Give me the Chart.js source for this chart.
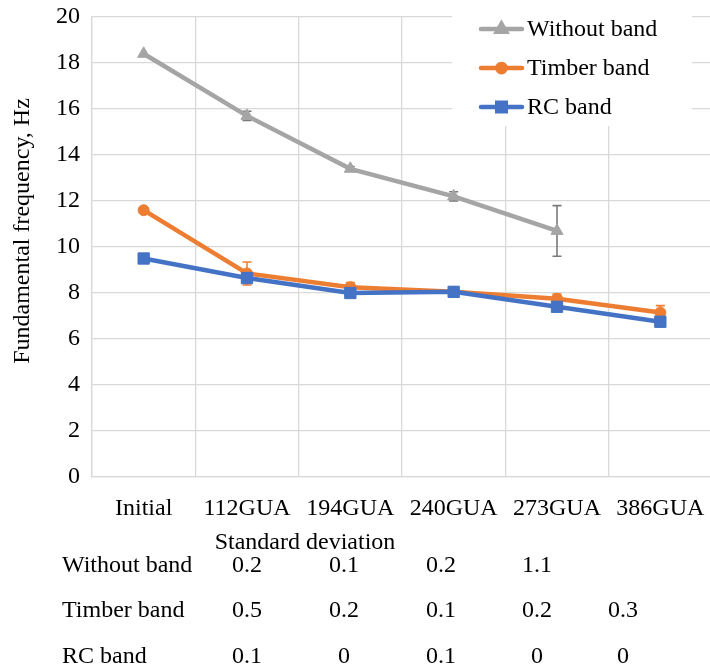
<!DOCTYPE html>
<html><head><meta charset="utf-8">
<script src="https://cdn.jsdelivr.net/npm/chart.js@4"></script>
<style>
html,body{margin:0;padding:0;background:#fff;overflow:hidden;}
#wrap{position:relative;width:710px;height:670px;overflow:hidden;}
#c{position:absolute;left:0;top:0;}
.t{position:absolute;font-family:"Liberation Serif","Times New Roman",serif;font-size:24px;color:#000;white-space:nowrap;line-height:1;transform:translateY(-50%);}
.v{transform:translate(-50%,-50%);}
</style></head><body>
<div id="wrap"><canvas id="c" width="721" height="670"></canvas><div id="tbl"></div></div>
<script>
const categories = ['Initial', '112GUA', '194GUA', '240GUA', '273GUA', '386GUA'];
const seriesNames = ['Without band', 'Timber band', 'RC band'];
const withoutBand = [18.4, 15.7, 13.4, 12.2, 10.7, null];
const timberBand = [11.6, 8.85, 8.25, 8.05, 7.75, 7.15];
const rcBand = [9.5, 8.65, 8.0, 8.05, 7.4, 6.75];
const sdWithout = [null, 0.2, 0.1, 0.2, 1.1, null];
const sdTimber = [null, 0.5, 0.2, 0.1, 0.2, 0.3];
const sdRC = [null, 0.1, 0, 0.1, 0, 0];
const yTickValues = [0, 2, 4, 6, 8, 10, 12, 14, 16, 18, 20];
const yTitle = 'Fundamental frequency, Hz';
const tableTitle = 'Standard deviation';

const FONT = '"Liberation Serif", "Times New Roman", serif';
const colors = ['#a5a5a5', '#ed7d31', '#4472c4'];
const errColors = ['#7a7a7a', '#ed7d31', '#4472c4'];
const styles = ['triangle', 'circle', 'rect'];
const radii = [7, 5.5, 8];
const values = [withoutBand, timberBand, rcBand];
const sds = [sdWithout, sdTimber, sdRC];

const errorBars = {
  id: 'errorBars',
  beforeDatasetDraw(chart, args) {
    const ds = chart.data.datasets[args.index];
    const sd = ds.sd;
    if (!sd) return;
    const ctx = chart.ctx, ys = chart.scales.y;
    ctx.save();
    ctx.strokeStyle = ds.errorColor;
    ctx.lineWidth = 1.6;
    args.meta.data.forEach((pt, i) => {
      const v = ds.data[i], s = sd[i];
      if (v == null || s == null || s === 0) return;
      const x = pt.x;
      const yt = ys.getPixelForValue(v + s), yb = ys.getPixelForValue(v - s);
      ctx.beginPath();
      ctx.moveTo(x, yt); ctx.lineTo(x, yb);
      ctx.moveTo(x - 4.5, yt); ctx.lineTo(x + 4.5, yt);
      ctx.moveTo(x - 4.5, yb); ctx.lineTo(x + 4.5, yb);
      ctx.stroke();
    });
    ctx.restore();
  }
};

const yAxisTitle = {
  id: 'yAxisTitle',
  afterDraw(chart) {
    const ctx = chart.ctx;
    ctx.save();
    ctx.translate(23, 231);
    ctx.rotate(-Math.PI / 2);
    ctx.fillStyle = '#000';
    ctx.font = '24px ' + FONT;
    ctx.textAlign = 'center';
    ctx.textBaseline = 'middle';
    ctx.fillText(yTitle, 0, 0);
    ctx.restore();
  }
};

const boxLegend = {
  id: 'boxLegend',
  afterDraw(chart) {
    const ctx = chart.ctx;
    ctx.save();
    ctx.fillStyle = '#ffffff';
    ctx.fillRect(452, 0, 240, 126);
    chart.data.datasets.forEach((ds, i) => {
      const y = 29 + i * 39;
      ctx.strokeStyle = ds.borderColor;
      ctx.lineWidth = 4.5;
      ctx.lineCap = 'round';
      ctx.beginPath(); ctx.moveTo(481, y); ctx.lineTo(522, y); ctx.stroke();
      ctx.fillStyle = ds.backgroundColor;
      ctx.strokeStyle = ds.borderColor;
      Chart.helpers.drawPoint(ctx, {pointStyle: ds.pointStyle, radius: ds.pointRadius * 0.75, rotation: 0, borderWidth: 1}, 501.5, y);
      ctx.fillStyle = '#000';
      ctx.font = '24px ' + FONT;
      ctx.textBaseline = 'middle';
      ctx.textAlign = 'left';
      ctx.fillText(ds.label, 527, y + 1);
    });
    ctx.restore();
  }
};

const datasets = seriesNames.map((name, i) => ({
  label: name,
  data: values[i],
  sd: sds[i],
  errorColor: errColors[i],
  borderColor: colors[i],
  backgroundColor: colors[i],
  borderWidth: 4.5,
  pointStyle: styles[i],
  pointRadius: radii[i],
  pointHoverRadius: radii[i],
  pointBorderWidth: 1,
  tension: 0,
  spanGaps: false,
  order: 3 - i
}));

new Chart(document.getElementById('c'), {
  type: 'line',
  data: {labels: categories, datasets},
  options: {
    responsive: false,
    animation: false,
    events: [],
    layout: {padding: {top: 17, left: 0, right: 0, bottom: 0}},
    plugins: {legend: {display: false}, tooltip: {enabled: false}},
    scales: {
      x: {
        offset: true,
        grid: {offset: true, color: '#d9d9d9', lineWidth: 1.3, drawTicks: false},
        border: {color: '#d9d9d9', width: 1.3},
        ticks: {color: '#000', font: {family: FONT, size: 24}, padding: 17, maxRotation: 0, autoSkip: false},
        afterFit(s) { s.height = 193; s.paddingLeft = 0; s.paddingRight = 0; }
      },
      y: {
        min: 0, max: 20,
        afterBuildTicks(s) { s.ticks = yTickValues.map(v => ({value: v})); },
        grid: {color: '#d9d9d9', lineWidth: 1.3, drawTicks: false},
        border: {color: '#d9d9d9', width: 1.3},
        ticks: {color: '#000', font: {family: FONT, size: 24}, padding: 12},
        title: {display: false},
        afterFit(s) { s.width = 92; s.paddingTop = 0; s.paddingBottom = 0; }
      }
    }
  },
  plugins: [errorBars, yAxisTitle, boxLegend]
});

// Standard deviation table (HTML text below the chart)
const tbl = document.getElementById('tbl');
function addText(txt, left, top, cls) {
  const d = document.createElement('div');
  d.className = 't' + (cls ? ' ' + cls : '');
  d.textContent = txt;
  d.style.left = left + 'px';
  d.style.top = top + 'px';
  tbl.appendChild(d);
}
addText(tableTitle, 305, 541, 'v');
const colCenters = [null, 247, 344, 441, 537, 623];
const rowCenters = [564, 609, 655];
seriesNames.forEach((name, r) => {
  addText(name, 62, rowCenters[r]);
  sds[r].forEach((s, c) => {
    if (s == null) return;
    addText(String(s), colCenters[c], rowCenters[r], 'v');
  });
});
</script>
</body></html>
